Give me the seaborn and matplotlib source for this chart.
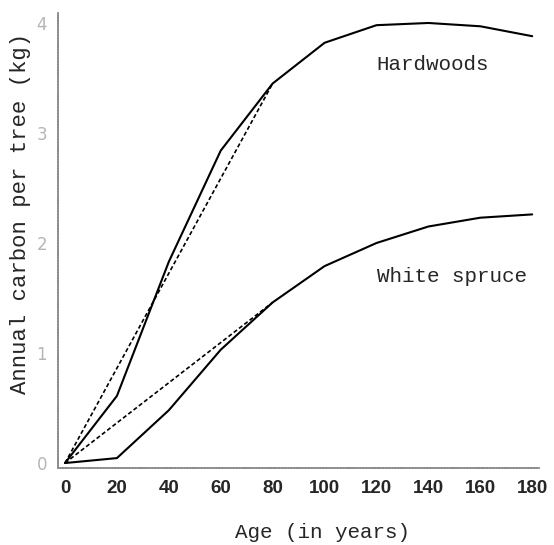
import numpy as np
import pandas as pd
import matplotlib.pyplot as plt
import seaborn as sns

# data
age = [0, 20, 40, 60, 80, 100, 120, 140, 160, 180]
hardwoods = [0, 0.61, 1.83, 2.84, 3.45, 3.82, 3.98, 4.0, 3.97, 3.88]
spruce = [0, 0.045, 0.48, 1.03, 1.46, 1.79, 2.0, 2.15, 2.23, 2.26]

# straight dashed reference lines from origin to age 80
chord_age = [0, 80]
hard_chord = [0, 3.45]
spruce_chord = [0, 1.46]

xticks = [0, 20, 40, 60, 80, 100, 120, 140, 160, 180]
yticks = [0, 1, 2, 3, 4]

df = pd.DataFrame({"Age": age * 2,
                   "Carbon": hardwoods + spruce,
                   "Species": ["Hardwoods"] * len(age) + ["White spruce"] * len(age)})

sns.set_style("white")
fig = plt.figure(figsize=(5.54, 5.45), dpi=100)
ax = fig.add_axes([0.1047, 0.1413, 0.87, 0.8347])

sns.lineplot(data=df, x="Age", y="Carbon", units="Species", estimator=None,
             color="black", linewidth=1.5, ax=ax)
sns.lineplot(x=chord_age, y=hard_chord, color="black", linewidth=1.2,
             linestyle=(0, (2.5, 1.5)), ax=ax)
sns.lineplot(x=chord_age, y=spruce_chord, color="black", linewidth=1.2,
             linestyle=(0, (2.5, 1.5)), ax=ax)

ax.set_xlim(-2.7, 183)
ax.set_ylim(-0.045, 4.09)
ax.set_xticks(xticks)
ax.set_yticks(yticks)
ax.set_xticklabels([str(t) for t in xticks], fontfamily="Liberation Sans",
                   fontweight="bold", fontsize=13.5)
ax.set_yticklabels([str(t) for t in yticks], fontfamily="DejaVu Sans",
                   fontsize=12, color="#b5b5b5")
ax.tick_params(axis="x", direction="out", length=3, width=0.8, color="#999999", pad=6)
ax.tick_params(axis="y", length=0, pad=8)

for side in ["top", "right"]:
    ax.spines[side].set_visible(False)
for side in ["left", "bottom"]:
    ax.spines[side].set_color("#8a8a8a")
    ax.spines[side].set_linestyle((0, (0.8, 0.8)))
    ax.spines[side].set_linewidth(1.3)

ax.set_xlabel("Age (in years)", fontfamily="Liberation Mono", fontsize=15)
ax.xaxis.set_label_coords(0.548, -0.12)
ax.set_ylabel("Annual carbon per tree (kg)", fontfamily="Liberation Mono", fontsize=16)
ax.yaxis.set_label_coords(-0.056, 0.56)

ax.text(141.7, 3.62, "Hardwoods", fontfamily="Liberation Mono", fontsize=15,
        ha="center", va="center")
ax.text(149, 1.7, "White spruce", fontfamily="Liberation Mono", fontsize=15,
        ha="center", va="center")

fig.savefig("out.png", dpi=100)
